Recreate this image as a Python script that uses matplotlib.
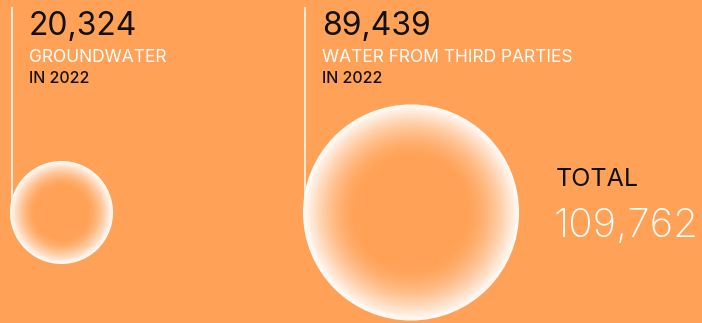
import numpy as np
import matplotlib.pyplot as plt
from matplotlib.patches import Circle

values = [20324, 89439]
numbers = ['20,324', '89,439']
labels = ['GROUNDWATER', 'WATER FROM THIRD PARTIES']
years = ['IN 2022', 'IN 2022']
total_label = 'TOTAL'
total_value = '109,762'

bg = '#FFA257'
plt.rcParams['font.family'] = ['Inter', 'DejaVu Sans']

fig = plt.figure(figsize=(7.02, 3.23), dpi=100, facecolor=bg)
ax = fig.add_axes([0, 0, 1, 1])
ax.set_xlim(0, 702)
ax.set_ylim(323, 0)
ax.set_aspect('equal')
ax.axis('off')
ax.set_facecolor(bg)

k = 51.5 / np.sqrt(values[0])  # radius scale (area ~ value)
cy = 212.5
lefts = [10, 303]

# radial white glow texture
n = 300
g = np.linspace(-1, 1, n)
X, Y = np.meshgrid(g, g)
r = np.sqrt(X**2 + Y**2)
alpha = np.clip((r - 0.5) / 0.5, 0, 1) ** 1.6
img = np.ones((n, n, 4))
img[..., 3] = alpha

for v, left, num, lab, yr in zip(values, lefts, numbers, labels, years):
    R = k * np.sqrt(v)
    cx = left + R
    base = Circle((cx, cy), R, facecolor=bg, edgecolor='none', zorder=1)
    ax.add_patch(base)
    im = ax.imshow(img, extent=(cx - R, cx + R, cy + R, cy - R), zorder=2,
                   interpolation='bilinear')
    im.set_clip_path(base)
    lx = left + 1.5
    y_end = cy - np.sqrt(R**2 - (R - 1.5)**2)
    ax.plot([lx, lx], [8, y_end], color='white', lw=1.1, zorder=3)
    tx = lx + 17.5
    ax.text(tx, 35, num, fontsize=23, color='#111111', va='baseline')
    ax.text(tx, 62, lab, fontsize=12.5, color='white', va='baseline')
    ax.text(tx, 83, yr, fontsize=11.5, color='#111111', va='baseline',
            fontweight='medium')

ax.text(556, 186, total_label, fontsize=18, color='#111111', va='baseline')
ax.text(554, 237, total_value, fontsize=29, color='white', va='baseline',
        fontweight='light')

fig.savefig('out.png', dpi=100, facecolor=bg)
